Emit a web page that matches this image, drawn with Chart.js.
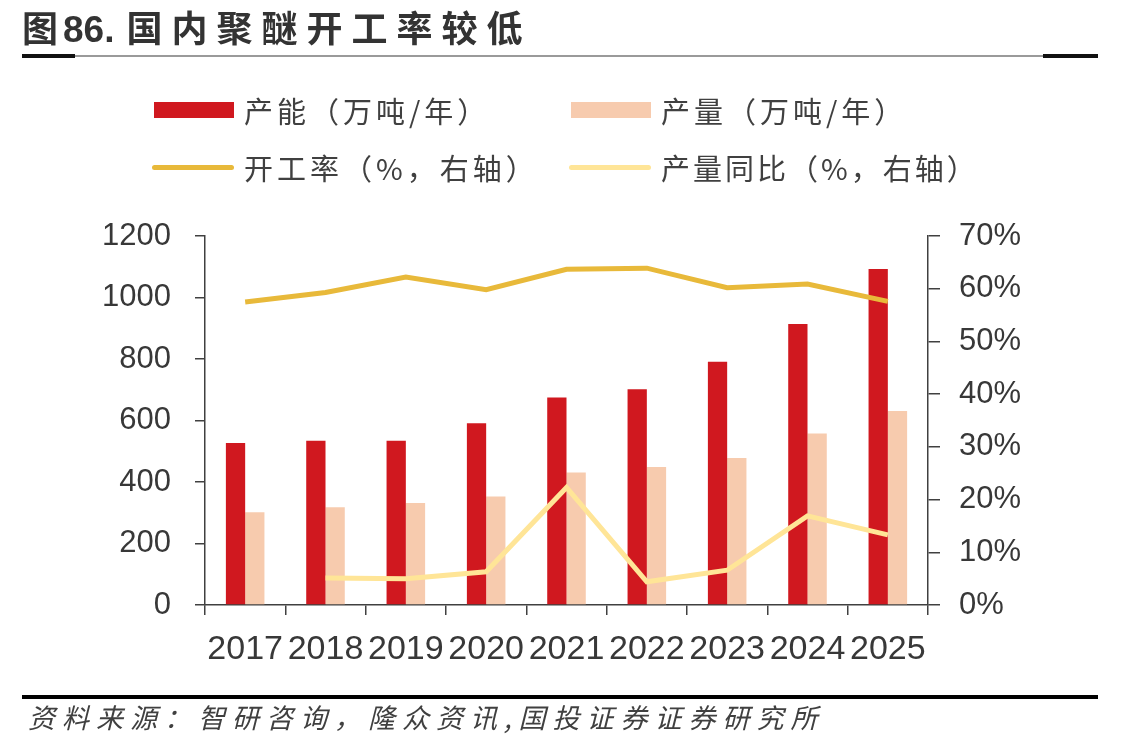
<!DOCTYPE html>
<html>
<head>
<meta charset="utf-8">
<script src="https://cdn.jsdelivr.net/npm/chart.js@4.4.1/dist/chart.umd.min.js"></script>
<style>
  html, body { margin:0; padding:0; background:#fff; }
  body { width:1147px; height:747px; position:relative; overflow:hidden; font-family:"Noto Sans CJK SC", sans-serif; color:#404040; }
  #c { position:absolute; left:0; top:0; }
  .title { position:absolute; left:22px; top:1px; font-size:36px; font-weight:700; letter-spacing:9px; color:#333; white-space:nowrap; line-height:50px; }
  .title .num { letter-spacing:0; font-family:"Liberation Sans", Arial, sans-serif; font-size:37px; margin-left:-4px; margin-right:12px; }
  .rule { position:absolute; left:22px; top:55px; width:1076px; height:2px; background:#9a9a9a; }
  .rule-end { position:absolute; top:54px; height:4px; background:#111; }
  .legend { position:absolute; font-size:29px; letter-spacing:4px; white-space:nowrap; line-height:40px; color:#404040; }
  .sw { position:absolute; }
  .bottom-rule { position:absolute; left:22px; top:695px; width:1076px; height:4px; background:#000; }
  .source { position:absolute; left:28px; top:698px; font-size:27px; font-style:italic; letter-spacing:7px; white-space:nowrap; color:#404040; line-height:38px; }
</style>
</head>
<body>
<canvas id="c" width="1147" height="747"></canvas>
<div class="title">图<span class="num">86.</span>国内聚醚开工率较低</div>
<div class="rule"></div>
<div class="rule-end" style="left:22px;width:53px;"></div>
<div class="rule-end" style="left:1043px;width:55px;"></div>

<div class="sw" style="left:154px;top:102px;width:80px;height:16px;background:#D0181F;"></div>
<div class="legend" style="left:244px;top:90px;">产能（万吨/年）</div>
<div class="sw" style="left:571px;top:102px;width:80px;height:16px;background:#F7CBAE;"></div>
<div class="legend" style="left:661px;top:90px;">产量（万吨/年）</div>
<div class="sw" style="left:152px;top:165px;width:82px;height:5px;border-radius:3px;background:#E8B93A;"></div>
<div class="legend" style="left:244px;top:147px;">开工率（%，右轴）</div>
<div class="sw" style="left:569px;top:165px;width:82px;height:5px;border-radius:3px;background:#FFE597;"></div>
<div class="legend" style="left:661px;top:147px;letter-spacing:3px;">产量同比（%，右轴）</div>

<div class="bottom-rule"></div>
<div class="source">资料来源：智研咨询，隆众资讯,国投证券证券研究所</div>

<script>
const categories = ['2017','2018','2019','2020','2021','2022','2023','2024','2025'];
const capacity   = [527, 534, 534, 591, 675, 702, 791, 914, 1093];
const output     = [302, 318, 332, 353, 431, 449, 478, 558, 631];
const utilization = [57.5, 59.3, 62.2, 59.8, 63.7, 63.9, 60.2, 60.9, 57.6];
const outputYoY  = [null, 5.1, 5.0, 6.3, 22.3, 4.4, 6.6, 16.9, 13.3];
const leftTicks  = [0, 200, 400, 600, 800, 1000, 1200];
const rightTicks = [0, 10, 20, 30, 40, 50, 60, 70];

const axisColor = '#404040';
const tickFont = { family: 'Liberation Sans, Arial, sans-serif', size: 31 };

new Chart(document.getElementById('c'), {
  type: 'bar',
  data: {
    labels: categories,
    datasets: [
      { type:'line', label:'开工率（%，右轴）', data: utilization, yAxisID:'y1', borderColor:'#E8B93A', borderWidth:5, pointRadius:0, tension:0, order:0 },
      { type:'line', label:'产量同比（%，右轴）', data: outputYoY, yAxisID:'y1', borderColor:'#FFE597', borderWidth:5, pointRadius:0, tension:0, order:1 },
      { label:'产能（万吨/年）', data: capacity, yAxisID:'y', backgroundColor:'#D0181F', categoryPercentage:0.48, barPercentage:1.0, order:2 },
      { label:'产量（万吨/年）', data: output, yAxisID:'y', backgroundColor:'#F7CBAE', categoryPercentage:0.48, barPercentage:1.0, order:3 }
    ]
  },
  options: {
    responsive:false,
    animation:false,
    layout:{ padding:{ top:236, bottom:0, left:0, right:0 } },
    plugins:{ legend:{ display:false }, title:{ display:false }, tooltip:{ enabled:false } },
    scales:{
      x:{
        offset:true,
        grid:{ display:true, offset:true, drawOnChartArea:false, drawTicks:true, tickLength:10, color:axisColor, lineWidth:1.5 },
        border:{ display:true, color:axisColor, width:1.5 },
        ticks:{ color:'#383838', font:{ family:'Liberation Sans, Arial, sans-serif', size:34 }, padding:14, maxRotation:0, autoSkip:false },
        afterFit(s){ s.height = 142; }
      },
      y:{
        position:'left', min:0, max:1200,
        afterBuildTicks(s){ s.ticks = leftTicks.map(v => ({ value:v })); },
        grid:{ display:true, drawOnChartArea:false, drawTicks:true, tickLength:10, color:axisColor, lineWidth:1.5 },
        border:{ display:true, color:axisColor, width:1.5 },
        ticks:{ color:'#383838', font:tickFont, padding:24, callback:v => String(v) },
        afterFit(s){ s.width = 205; }
      },
      y1:{
        position:'right', min:0, max:70,
        afterBuildTicks(s){ s.ticks = rightTicks.map(v => ({ value:v })); },
        grid:{ display:true, drawOnChartArea:false, drawTicks:true, tickLength:12, color:axisColor, lineWidth:1.5 },
        border:{ display:true, color:axisColor, width:1.5 },
        ticks:{ color:'#383838', font:tickFont, padding:19, callback:v => v + '%' },
        afterFit(s){ s.width = 219; }
      }
    }
  }
});
</script>
</body>
</html>
